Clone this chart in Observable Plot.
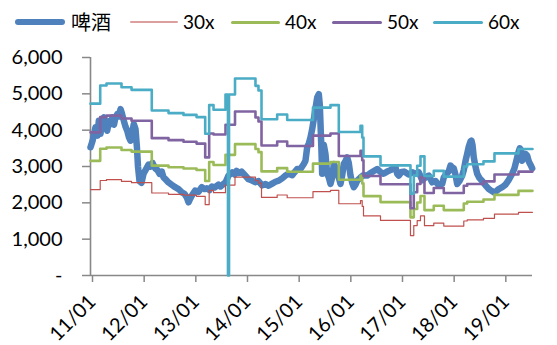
<!DOCTYPE html>
<html>
<head>
<meta charset="utf-8">
<script src="https://cdn.jsdelivr.net/npm/d3@7"></script>
<script src="https://cdn.jsdelivr.net/npm/@observablehq/plot@0.6"></script>
<style>
  body { margin: 0; background: #fff; }
  #wrap { position: relative; width: 557px; height: 345px; overflow: hidden; }
  #legend { position: absolute; left: 0; top: 0; width: 557px; height: 45px; }
  .sw { position: absolute; border-radius: 3px; }
  .lb { position: absolute; top: 10px; line-height: 24px; color: #000; white-space: nowrap; }
  #chart { position: absolute; left: 0; top: 0; }
</style>
</head>
<body>
<div id="wrap">
  <div id="chart"></div>
  <div id="legend"></div>
</div>
<script>
// Series names and colours
const seriesNames = ["啤酒", "30x", "40x", "50x", "60x"];
const seriesColors = ["#4F81BD", "#C0504D", "#9BBB59", "#8064A2", "#4BACC6"];

// Beer index, [decimal year, index level]
const beer = [
  [2011.000,3530],[2011.039,3700],[2011.097,4080],[2011.135,3850],[2011.161,4260],[2011.194,3900],[2011.223,4300],[2011.257,4350],[2011.290,4100],[2011.323,3985],[2011.358,4250],[2011.387,4170],[2011.426,4350],[2011.455,4150],[2011.484,4350],[2011.523,4450],[2011.552,4380],[2011.581,4580],[2011.610,4450],[2011.645,4260],[2011.677,4100],[2011.710,3985],[2011.745,3800],[2011.774,3710],[2011.803,3900],[2011.838,4170],[2011.871,4030],[2011.900,3500],[2011.919,3000],[2011.948,2600],[2011.987,2550],
  [2012.026,2800],[2012.065,2900],[2012.123,3050],[2012.161,3000],[2012.200,3100],[2012.252,2950],[2012.297,2900],[2012.335,2800],[2012.380,2860],[2012.413,2700],[2012.452,2650],[2012.510,2560],[2012.568,2500],[2012.639,2430],[2012.703,2380],[2012.767,2290],[2012.819,2250],[2012.864,2150],[2012.897,2015],[2012.926,2100],[2012.961,2200],
  [2013.026,2336],[2013.090,2300],[2013.154,2430],[2013.206,2380],[2013.251,2400],[2013.303,2350],[2013.348,2450],[2013.400,2420],[2013.477,2500],[2013.516,2450],[2013.574,2520],[2013.613,2560],[2013.671,2750],[2013.742,2840],[2013.787,2780],[2013.826,2880],[2013.864,2820],[2013.922,2860],[2013.994,2750],
  [2014.058,2650],[2014.116,2620],[2014.188,2570],[2014.251,2600],[2014.323,2480],[2014.387,2520],[2014.445,2470],[2014.517,2530],[2014.580,2580],[2014.644,2610],[2014.716,2680],[2014.774,2750],[2014.832,2800],[2014.904,2760],[2014.948,2840],
  [2015.000,2930],[2015.064,2930],[2015.128,3070],[2015.161,3160],[2015.194,3530],[2015.229,3650],[2015.258,3800],[2015.287,4000],[2015.322,4300],[2015.355,4600],[2015.388,4900],[2015.419,4990],[2015.438,4700],[2015.451,4200],[2015.471,3400],[2015.484,2800],[2015.515,3600],[2015.548,3345],[2015.581,2795],[2015.612,2700],[2015.645,2520],[2015.678,2700],[2015.709,3070],[2015.742,2975],[2015.775,2885],[2015.806,2700],[2015.839,2520],[2015.871,2750],[2015.902,3070],[2015.935,3150],[2015.968,3250],[2015.999,3100],
  [2016.032,2750],[2016.065,2550],[2016.096,2430],[2016.129,2500],[2016.162,2610],[2016.193,2650],[2016.226,2700],[2016.284,2760],[2016.355,2750],[2016.419,2820],[2016.477,2870],[2016.549,2930],[2016.613,2850],[2016.671,2800],[2016.742,2860],[2016.806,2900],[2016.864,2950],[2016.903,2975],[2016.936,2800],[2016.967,2750],
  [2017.019,2850],[2017.064,2860],[2017.097,2840],[2017.155,2780],[2017.226,2840],[2017.290,2800],[2017.354,2840],[2017.420,2620],[2017.484,2700],[2017.548,2750],[2017.613,2565],[2017.677,2600],[2017.741,2475],[2017.807,2520],[2017.838,2700],[2017.890,2800],[2017.935,2870],[2017.967,3025],
  [2018.000,2975],[2018.031,2950],[2018.064,2780],[2018.097,2520],[2018.142,2600],[2018.194,2750],[2018.225,2900],[2018.258,3150],[2018.291,3350],[2018.322,3550],[2018.355,3690],[2018.374,3710],[2018.393,3600],[2018.418,3250],[2018.451,3000],[2018.484,2800],[2018.529,2680],[2018.581,2600],[2018.645,2480],[2018.709,2380],[2018.761,2330],[2018.806,2290],[2018.838,2300],[2018.902,2380],[2018.968,2430],
  [2019.032,2500],[2019.090,2620],[2019.162,2800],[2019.206,2950],[2019.258,3250],[2019.284,3400],[2019.309,3500],[2019.332,3450],[2019.355,3160],[2019.386,3250],[2019.419,3345],[2019.452,3300],[2019.483,3140],[2019.516,3050],[2019.549,2950]
];

// PE band levels: each value holds from its date until the next one
const bandDates = [2011.000, 2011.188, 2011.310, 2011.600, 2011.794, 2012.186, 2012.510, 2012.800, 2013.052, 2013.220,
  2013.297, 2013.381, 2013.613, 2013.661, 2013.681, 2013.797, 2014.193, 2014.251, 2014.310, 2014.613,
  2014.807, 2015.306, 2015.645, 2015.806, 2016.226, 2016.259, 2016.284, 2016.613, 2017.193, 2017.257,
  2017.323, 2017.387, 2017.464, 2017.644, 2017.838, 2018.225, 2018.291, 2018.606, 2018.819, 2019.284, 2019.555];
const pe30 = [2365, 2615, 2640, 2590, 2555, 2270, 2235, 2210, 2180, 1950, 2345, 2280, 2490, 2490, 2490, 2710, 2610, 2545, 2150, 2215,
  2140, 2310, 2345, 1975, 2060, 1900, 1640, 1515, 1100, 1375, 1510, 1640, 1370, 1440, 1360, 1500, 1530, 1575, 1690, 1740, 1740];
const pe40 = [3155, 3490, 3525, 3455, 3410, 3025, 2980, 2945, 2905, 2600, 3125, 3040, 3320, 3320, 3320, 3615, 3480, 3395, 2865, 2955,
  2855, 3080, 3125, 2635, 2745, 2535, 2185, 2020, 1600, 1830, 2010, 2190, 1800, 1920, 1800, 1980, 2030, 2090, 2220, 2330, 2330];
const pe50 = [3940, 4360, 4400, 4320, 4260, 3780, 3725, 3680, 3630, 3250, 3910, 3880, 4150, 4150, 4150, 4515, 4350, 4240, 3580, 3690,
  3565, 3850, 3910, 3290, 3430, 3170, 2740, 2510, 1850, 2290, 2520, 2700, 2270, 2410, 2270, 2470, 2520, 2590, 2780, 2860, 2860];
const pe60 = [4730, 5230, 5285, 5180, 5110, 4540, 4470, 4420, 4360, 3900, 4690, 4560, 4980, 0, 4980, 5420, 5220, 5090, 4300, 4430,
  4280, 4620, 4690, 3950, 4120, 3800, 3280, 3030, 2250, 2750, 3020, 3280, 2740, 2880, 2720, 3000, 3060, 3140, 3360, 3480, 3480];

// Axis ticks
const yearTicks = [2011, 2012, 2013, 2014, 2015, 2016, 2017, 2018, 2019];
const yTicks = [0, 1000, 2000, 3000, 4000, 5000, 6000];

const beerData = beer.map(([t, v]) => ({t, v}));
const bands = [pe30, pe40, pe50, pe60].map(vals => bandDates.map((t, i) => ({t, v: vals[i]})));
const bandWidths = [1.2, 2.6, 2.6, 2.6];
const axisGray = "#888888";

const chart = Plot.plot({
  width: 557,
  height: 345,
  marginTop: 57,
  marginBottom: 70,
  marginLeft: 90,
  marginRight: 25,
  style: {fontFamily: "Lato, 'Noto Sans', sans-serif", fontSize: "20px", color: "#000", background: "transparent"},
  x: {domain: [2011, 2019.555], label: null},
  y: {domain: [0, 6000], label: null},
  marks: [
    Plot.axisY({ticks: yTicks, tickSize: 8, tickPadding: 20, stroke: axisGray, strokeWidth: 1.5,
      tickFormat: d => d === 0 ? "-" : d3.format(",")(d), label: null}),
    Plot.axisX({ticks: yearTicks, tickSize: 7, tickPadding: 16, dx: 2, tickRotate: -45, stroke: axisGray, strokeWidth: 1.5,
      tickFormat: d => `${String(d).slice(2)}/01`, label: null}),
    Plot.ruleX([2011], {stroke: axisGray, strokeWidth: 1.6}),
    Plot.ruleY([0], {stroke: axisGray, strokeWidth: 1.6}),
    Plot.line(beerData, {x: "t", y: "v", stroke: seriesColors[0], strokeWidth: 6.5, curve: "linear"}),
    ...bands.map((d, i) => Plot.line(d, {x: "t", y: "v", stroke: seriesColors[i + 1], strokeWidth: bandWidths[i], curve: "step-after"}))
  ]
});
document.getElementById("chart").appendChild(chart);

// Legend row above the plot
const legend = document.getElementById("legend");
const swatchLeft = [15, 130, 231, 332, 433];
const swatchWidth = [50, 48, 49, 50, 50];
const swatchThick = [6, 2, 3, 3, 3];
seriesNames.forEach((name, i) => {
  const sw = document.createElement("div");
  sw.className = "sw";
  sw.style.left = swatchLeft[i] + "px";
  sw.style.width = swatchWidth[i] + "px";
  sw.style.height = swatchThick[i] + "px";
  sw.style.top = (22 - swatchThick[i] / 2) + "px";
  sw.style.background = seriesColors[i];
  if (i === 1) sw.style.opacity = "0.55";
  legend.appendChild(sw);
  const lb = document.createElement("div");
  lb.className = "lb";
  lb.textContent = name;
  lb.style.left = (swatchLeft[i] + swatchWidth[i] + (i === 0 ? 6 : 5)) + "px";
  lb.style.fontFamily = i === 0 ? "'Noto Sans CJK SC', sans-serif" : "Lato, sans-serif";
  lb.style.fontSize = i === 0 ? "20px" : "19px";
  legend.appendChild(lb);
});
</script>
</body>
</html>
